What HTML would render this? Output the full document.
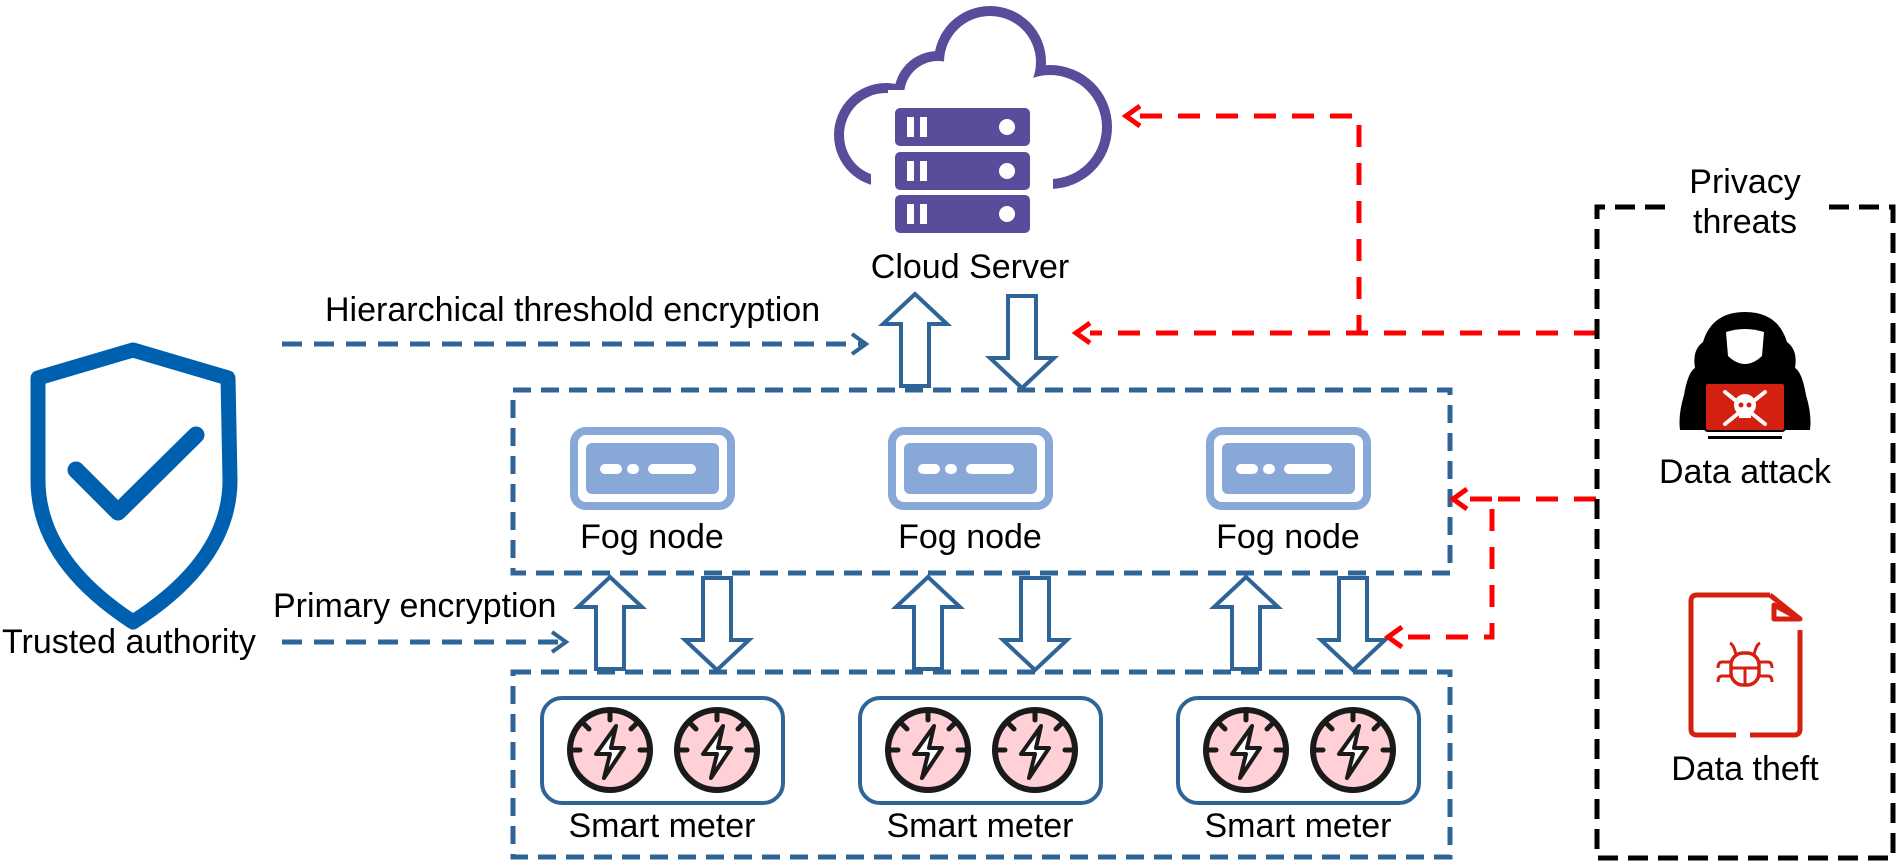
<!DOCTYPE html>
<html><head><meta charset="utf-8"><style>
html,body{margin:0;padding:0;background:#fff;}
svg{display:block;}
text{font-family:"Liberation Sans",Arial,sans-serif;font-size:34px;fill:#000;}
</style></head><body>
<svg width="1900" height="861" viewBox="0 0 1900 861" xmlns="http://www.w3.org/2000/svg">
<defs>
<g id="meter">
<circle cx="0" cy="0" r="40" fill="#ffd0d6" stroke="#1a1a1a" stroke-width="6"/>
<g stroke="#1a1a1a" stroke-width="5" stroke-linecap="round">
<line x1="0" y1="-40" x2="0" y2="-30"/><line x1="-40" y1="0" x2="-30" y2="0"/><line x1="40" y1="0" x2="30" y2="0"/>
<line x1="-28" y1="-28" x2="-21" y2="-21"/><line x1="28" y1="-28" x2="21" y2="-21"/>
</g>
<path d="M6,-24 L-14,4 L0,4 L-6,28 L14,-2 L1,-2 Z" fill="#fff" stroke="#1a1a1a" stroke-width="4" stroke-linejoin="round"/>
</g>
<g id="meterGroup">
<rect x="0" y="0" width="241" height="105" rx="20" fill="#fff" stroke="#2f6496" stroke-width="4"/>
<use href="#meter" x="68" y="52"/>
<use href="#meter" x="175" y="52"/>
</g>
<g id="fog">
<rect x="4" y="4" width="157" height="75" rx="12" fill="#fff" stroke="#88a8d8" stroke-width="8"/>
<rect x="16" y="16" width="133" height="51" rx="6" fill="#88a8d8"/>
<rect x="30" y="37" width="22" height="10" rx="5" fill="#fff"/>
<rect x="57" y="37" width="12" height="10" rx="5" fill="#fff"/>
<rect x="78" y="37" width="48" height="10" rx="5" fill="#fff"/>
</g>
<g id="up">
<polygon points="-14,92 -14,30 -32,30 0,0 32,30 14,30 14,92" fill="#fff" stroke="#2f6496" stroke-width="4" stroke-linejoin="miter"/>
</g>
<g id="down">
<polygon points="-14,0 -14,62 -32,62 0,92 32,62 14,62 14,0" fill="#fff" stroke="#2f6496" stroke-width="4"/>
</g>
</defs>

<!-- Cloud -->
<g>
<circle cx="886" cy="135" r="52" fill="#5a4b9b"/>
<circle cx="938" cy="95" r="44" fill="#5a4b9b"/>
<circle cx="990" cy="62" r="56" fill="#5a4b9b"/>
<circle cx="1050" cy="127" r="62" fill="#5a4b9b"/>
<circle cx="886" cy="135" r="42" fill="#fff"/>
<circle cx="938" cy="95" r="34" fill="#fff"/>
<circle cx="990" cy="62" r="46" fill="#fff"/>
<circle cx="1050" cy="127" r="52" fill="#fff"/>
<rect x="888" y="90" width="165" height="100" fill="#fff"/>
<rect x="871" y="150" width="180" height="50" fill="#fff"/>
</g>
<g fill="#5a4b9b">
<rect x="895" y="108" width="135" height="38" rx="5"/>
<rect x="895" y="152" width="135" height="38" rx="5"/>
<rect x="895" y="195" width="135" height="38" rx="5"/>
</g>
<g fill="#fff">
<rect x="907" y="117" width="7" height="20"/><rect x="920" y="117" width="7" height="20"/><circle cx="1007" cy="127" r="8"/>
<rect x="907" y="161" width="7" height="20"/><rect x="920" y="161" width="7" height="20"/><circle cx="1007" cy="171" r="8"/>
<rect x="907" y="204" width="7" height="20"/><rect x="920" y="204" width="7" height="20"/><circle cx="1007" cy="214" r="8"/>
</g>
<text x="970" y="278" text-anchor="middle">Cloud Server</text>

<!-- Hierarchical -->
<text x="325" y="321">Hierarchical threshold encryption</text>
<line x1="282" y1="344" x2="862" y2="344" stroke="#2f6496" stroke-width="5" stroke-dasharray="20,12"/>
<polyline points="852,334 866,344 852,354" fill="none" stroke="#2f6496" stroke-width="4"/>

<use href="#up" x="915" y="294"/>
<use href="#down" x="1022" y="296"/>

<!-- Fog box -->
<rect x="513" y="390" width="937" height="183" fill="none" stroke="#2f6496" stroke-width="5" stroke-dasharray="18,10"/>
<use href="#fog" x="570" y="427"/>
<use href="#fog" x="888" y="427"/>
<use href="#fog" x="1206" y="427"/>
<text x="652" y="548" text-anchor="middle">Fog node</text>
<text x="970" y="548" text-anchor="middle">Fog node</text>
<text x="1288" y="548" text-anchor="middle">Fog node</text>

<use href="#up" x="610" y="577"/>
<use href="#down" x="717" y="578"/>
<use href="#up" x="928" y="577"/>
<use href="#down" x="1035" y="578"/>
<use href="#up" x="1246" y="577"/>
<use href="#down" x="1353" y="578"/>

<!-- Meter box -->
<rect x="513" y="672" width="937" height="185" fill="none" stroke="#2f6496" stroke-width="5" stroke-dasharray="18,10"/>
<use href="#meterGroup" x="542" y="698"/>
<use href="#meterGroup" x="860" y="698"/>
<use href="#meterGroup" x="1178" y="698"/>
<text x="662" y="837" text-anchor="middle">Smart meter</text>
<text x="980" y="837" text-anchor="middle">Smart meter</text>
<text x="1298" y="837" text-anchor="middle">Smart meter</text>

<!-- Shield -->
<path d="M38,378 Q133,350 133,350 Q133,350 228,378 L230,480 Q230,560 133,622 Q38,560 38,480 Z" fill="none" stroke="#0060b0" stroke-width="15" stroke-linejoin="round"/>
<polyline points="76,470 118,512 196,435" fill="none" stroke="#0060b0" stroke-width="17" stroke-linecap="round" stroke-linejoin="round"/>
<text x="2" y="653">Trusted authority</text>
<text x="273" y="617">Primary encryption</text>
<line x1="282" y1="642" x2="560" y2="642" stroke="#2f6496" stroke-width="5" stroke-dasharray="20,12"/>
<polyline points="552,632 566,642 552,652" fill="none" stroke="#2f6496" stroke-width="4"/>

<!-- Red lines -->
<g fill="none" stroke="#ff0000" stroke-width="5">
<polyline points="1140,116 1359,116 1359,333" stroke-dasharray="22,16"/>
<line x1="1596" y1="333" x2="1090" y2="333" stroke-dasharray="22,16"/>
<polyline points="1140,106 1126,116 1140,126"/>
<polyline points="1090,323 1076,333 1090,343"/>
<polyline points="1596,499 1492,499 1492,637 1400,637" stroke-dasharray="22,16"/>
<line x1="1492" y1="499" x2="1462" y2="499" stroke-dasharray="22,16"/>
<polyline points="1467,489 1453,499 1467,509"/>
<polyline points="1402,627 1388,637 1402,647"/>
</g>

<!-- Privacy box -->
<polyline points="1665,207 1597,207 1597,858 1893,858 1893,207 1825,207" fill="none" stroke="#000" stroke-width="5" stroke-dasharray="20,10"/>
<text x="1745" y="193" text-anchor="middle">Privacy</text>
<text x="1745" y="233" text-anchor="middle">threats</text>

<!-- Hacker -->
<path d="M1745,312 Q1712,312 1703,342 Q1692,350 1695,368 Q1688,372 1684,395 Q1678,415 1680,430 L1810,430 Q1812,415 1806,395 Q1802,372 1795,368 Q1798,350 1787,342 Q1778,312 1745,312 Z" fill="#000"/>
<path d="M1726,332 Q1745,326 1764,332 L1762,356 Q1745,372 1728,356 Z" fill="#fff"/>
<rect x="1705" y="383" width="80" height="48" rx="3" fill="#d42010" stroke="#000" stroke-width="2"/>
<rect x="1708" y="436" width="74" height="3" fill="#000"/>
<g stroke="#fff" stroke-width="4" stroke-linecap="round">
<line x1="1725" y1="392" x2="1765" y2="424"/><line x1="1765" y1="392" x2="1725" y2="424"/>
</g>
<circle cx="1745" cy="405" r="11" fill="#fff"/>
<rect x="1739" y="410" width="12" height="8" fill="#fff"/>
<circle cx="1741" cy="405" r="2.5" fill="#d42010"/><circle cx="1749" cy="405" r="2.5" fill="#d42010"/>
<text x="1745" y="483" text-anchor="middle">Data attack</text>

<!-- File -->
<g fill="none" stroke="#d42010" stroke-width="5" stroke-linejoin="round">
<path d="M1770,595 L1697,595 Q1691,595 1691,601 L1691,729 Q1691,735 1697,735 L1736,735"/>
<path d="M1750,735 L1794,735 Q1800,735 1800,729 L1800,630"/>
<path d="M1774,605 L1774,619 L1800,619 Z"/>
<path d="M1770,595 L1800,619"/>
<rect x="1731" y="653" width="28" height="32" rx="12" stroke-width="3.5"/>
<line x1="1745" y1="668" x2="1745" y2="685" stroke-width="3"/>
<line x1="1731" y1="668" x2="1759" y2="668" stroke-width="3"/>
<path d="M1736,655 Q1734,645 1730,643 M1754,655 Q1756,645 1760,643 M1731,662 L1722,662 Q1718,662 1718,668 M1759,662 L1768,662 Q1772,662 1772,668 M1731,676 L1722,676 Q1718,676 1718,682 M1759,676 L1768,676 Q1772,676 1772,682" stroke-width="3"/>
</g>
<text x="1745" y="780" text-anchor="middle">Data theft</text>
</svg>
</body></html>
